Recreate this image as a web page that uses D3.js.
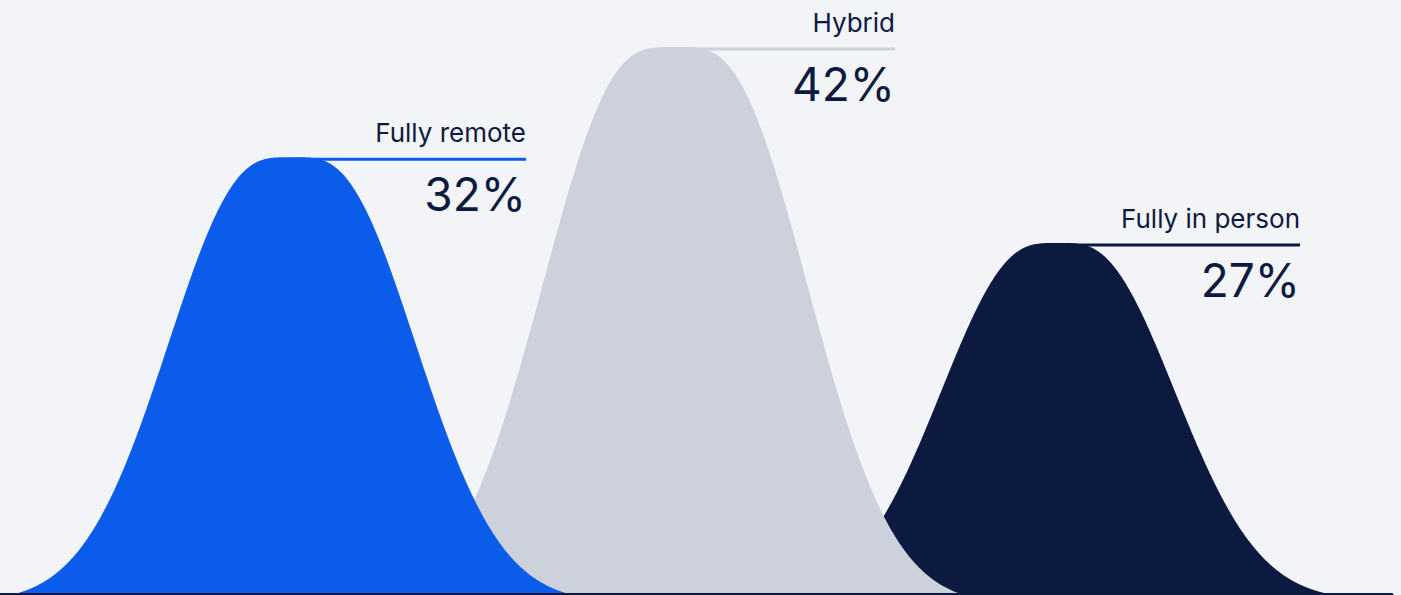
<!DOCTYPE html>
<html>
<head>
<meta charset="utf-8">
<script src="https://cdn.jsdelivr.net/npm/d3@7"></script>
<style>
  html, body { margin: 0; padding: 0; background: #f3f4f8; overflow: hidden; }
  svg { display: block; }
</style>
</head>
<body>
<svg id="chart"></svg>
<script>
// Work arrangement shares
const categories = ["Fully remote", "Hybrid", "Fully in person"];
const shares = [32, 42, 27];
const shareLabels = ["32%", "42%", "27%"];

// Styling per category
const palette = ["#0b5ceb", "#cdd1dc", "#0d1a40"];
const labelReach = [234, 220, 242];   // how far each label rule runs right of the peak
const paintOrder = [2, 1, 0];          // back to front

const W = 1401, H = 595;
const baseY = 593;
const sigma = 84;        // spread of each bell
const cutoff = 2.78;     // bell is trimmed at this many sigmas
const crest = 0.1;       // crest rounding width, as a share of bell height
const ink = "#0d1a40";
const font = "Inter, 'Noto Sans', sans-serif";

const svg = d3.select("#chart").attr("width", W).attr("height", H);
svg.append("rect").attr("width", W).attr("height", H).attr("fill", "#f3f4f8");

const x = d3.scalePoint().domain(categories).range([292, 1058]);
const peakY = d3.scalePow().exponent(-1).domain(d3.extent(shares)).range([243, 47]);

// Bell profile: a gaussian whose distance is softened near the crest,
// giving a broad rounded top and long shoulders.
function bellPoints(i) {
  const cx = x(categories[i]);
  const top = peakY(shares[i]);
  const height = baseY - top;
  const w = crest * height;
  const dEnd = cutoff * sigma;
  const half = Math.sqrt((w + dEnd) ** 2 - w * w);
  const gEnd = Math.exp(-cutoff * cutoff / 2);
  const n = Math.ceil(half * 2);
  return d3.range(n + 1).map(k => {
    const dx = -half + (2 * half * k) / n;
    const d = Math.sqrt(dx * dx + w * w) - w;
    const g = Math.exp(-(d * d) / (2 * sigma * sigma));
    const p = Math.max(0, (g - gEnd) / (1 - gEnd));
    return { x: cx + dx, y: baseY - height * p };
  });
}

const area = d3.area()
  .x(d => d.x)
  .y0(baseY)
  .y1(d => d.y)
  .curve(d3.curveLinear);

const bells = svg.append("g");
paintOrder.forEach(i => {
  bells.append("path")
    .attr("d", area(bellPoints(i)))
    .attr("fill", palette[i]);
});

// Labels: rule at the crest, category above, share below
const labels = svg.append("g");
categories.forEach((c, i) => {
  const cx = x(c);
  const ly = peakY(shares[i]) + 2;
  const x2 = cx + labelReach[i];
  labels.append("line")
    .attr("x1", cx).attr("x2", x2)
    .attr("y1", ly).attr("y2", ly)
    .attr("stroke", palette[i]).attr("stroke-width", 3);
  labels.append("text")
    .attr("x", x2).attr("y", ly - 17.5)
    .attr("text-anchor", "end")
    .attr("font-family", font).attr("font-size", 26).attr("font-weight", 400)
    .attr("fill", ink)
    .text(c);
  labels.append("text")
    .attr("x", x2).attr("y", ly + 52)
    .attr("text-anchor", "end")
    .attr("font-family", font).attr("font-size", 46).attr("font-weight", 400)
    .attr("fill", ink)
    .text(shareLabels[i]);
});

// Baseline
svg.append("line")
  .attr("x1", -4).attr("x2", 1392)
  .attr("y1", baseY + 1.5).attr("y2", baseY + 1.5)
  .attr("stroke", ink).attr("stroke-width", 3)
  .attr("stroke-linecap", "round");
</script>
</body>
</html>
